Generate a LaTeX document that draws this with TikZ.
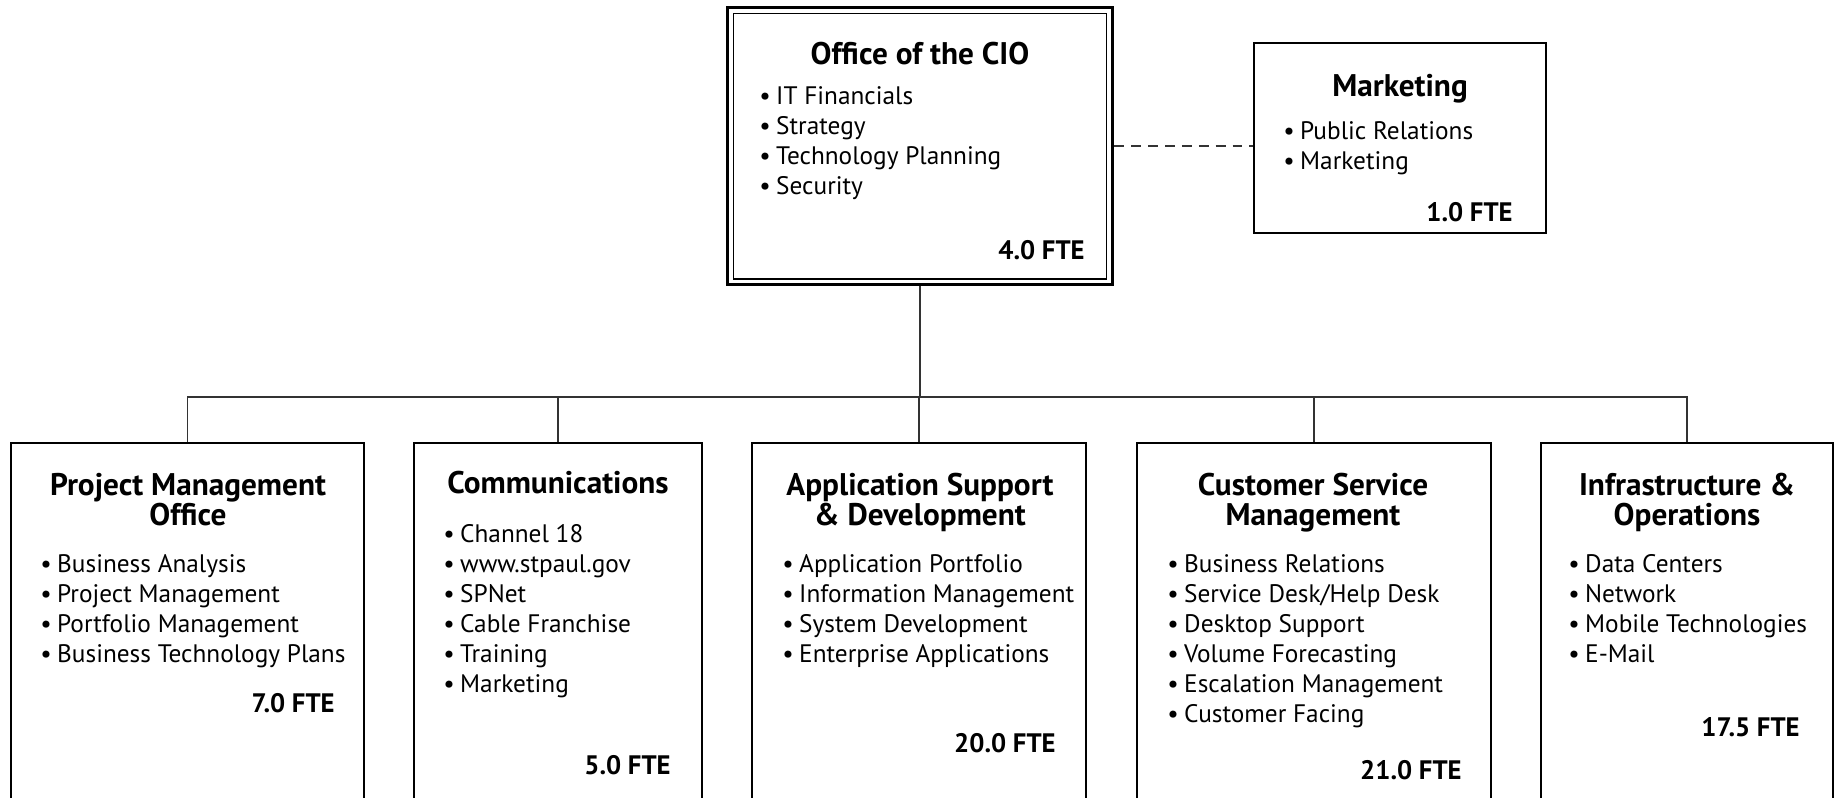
\documentclass[tikz,border=0pt]{standalone}
\usepackage{fontspec}
\setmainfont{PT Sans}
\usepackage{tikz}
\usetikzlibrary{positioning}

\newcommand{\bul}{\makebox[9.6pt][l]{\textbullet}}

\begin{document}
\begin{tikzpicture}[x=0.02cm, y=-0.02cm,
  unit/.style={rectangle, draw, line width=1.1pt, inner sep=0pt, minimum height=7.74cm},
  ttl/.style={font=\fontsize{17.8}{17.07}\selectfont\bfseries, align=center, inner sep=0pt, anchor=north},
  lst/.style={font=\fontsize{14.4}{17.07}\selectfont, align=left, inner sep=0pt, anchor=north west},
  fte/.style={font=\fontsize{15.2}{17}\selectfont\bfseries, inner sep=0pt, anchor=base east},
  link/.style={line width=0.6pt, black!80}]
\useasboundingbox (0,0) rectangle (1837,798);
\clip (0,0) rectangle (1837,798);
% top level
\node[rectangle, draw, line width=1.7pt, minimum width=7.72cm, minimum height=5.56cm] (cio) at (920,146) {};
\node[rectangle, draw, line width=0.6pt, minimum width=7.48cm, minimum height=5.32cm] (cioin) at (920,146) {};
\node[ttl] (ciot) at (920,42) {Office of the CIO};
\node[lst] (ciol) at (759,86) {\bul IT Financials\\\bul Strategy\\\bul Technology Planning\\\bul Security};
\node[fte] (ciof) at (1085,259) {4.0 FTE};
\node[rectangle, draw, line width=1.1pt, minimum width=5.84cm, minimum height=3.8cm] (mkt) at (1400,138) {};
\node[ttl] (mktt) at (1400,74) {Marketing};
\node[lst] (mktl) at (1283,121) {\bul Public Relations\\\bul Marketing};
\node[fte] (mktf) at (1513,221) {1.0 FTE};
\draw[link, dash pattern=on 5.6pt off 4pt] (cio.east) -- (mkt.west |- cio.east);
% divisions
\node[unit, minimum width=7.06cm] (pmo) at (187.5,636.5) {};
\node[ttl] (pmot) at (188,473) {Project Management\\Office};
\node[lst] (pmol) at (40,554) {\bul Business Analysis\\\bul Project Management\\\bul Portfolio Management\\\bul Business Technology Plans};
\node[fte] (pmof) at (335,712) {7.0 FTE};
\node[unit, minimum width=5.76cm] (com) at (558,636.5) {};
\node[ttl] (comt) at (558,471) {Communications};
\node[lst] (coml) at (443,524) {\bul Channel 18\\\bul www.stpaul.gov\\\bul SPNet\\\bul Cable Franchise\\\bul Training\\\bul Marketing};
\node[fte] (comf) at (671,774) {5.0 FTE};
\node[unit, minimum width=6.68cm] (app) at (919,636.5) {};
\node[ttl] (appt) at (920,473) {Application Support\\\& Development};
\node[lst] (appl) at (782,554) {\bul Application Portfolio\\\bul Information Management\\\bul System Development\\\bul Enterprise Applications};
\node[fte] (appf) at (1056,752) {20.0 FTE};
\node[unit, minimum width=7.08cm] (csm) at (1314,636.5) {};
\node[ttl] (csmt) at (1313,473) {Customer Service\\Management};
\node[lst] (csml) at (1167,554) {\bul Business Relations\\\bul Service Desk/Help Desk\\\bul Desktop Support\\\bul Volume Forecasting\\\bul Escalation Management\\\bul Customer Facing};
\node[fte] (csmf) at (1462,779) {21.0 FTE};
\node[unit, minimum width=5.84cm] (inf) at (1687,636.5) {};
\node[ttl] (inft) at (1687,473) {Infrastructure \&\\Operations};
\node[lst] (infl) at (1568,554) {\bul Data Centers\\\bul Network\\\bul Mobile Technologies\\\bul E-Mail};
\node[fte] (inff) at (1800,736) {17.5 FTE};
% connectors
\coordinate (bar) at (920,397);
\draw[link] (cio.south) -- (cio.south |- bar);
\draw[link] (pmo.north) -- (pmo.north |- bar) -- (inf.north |- bar) -- (inf.north);
\draw[link] (com.north) -- (com.north |- bar);
\draw[link] (app.north) -- (app.north |- bar);
\draw[link] (csm.north) -- (csm.north |- bar);
\end{tikzpicture}
\end{document}
